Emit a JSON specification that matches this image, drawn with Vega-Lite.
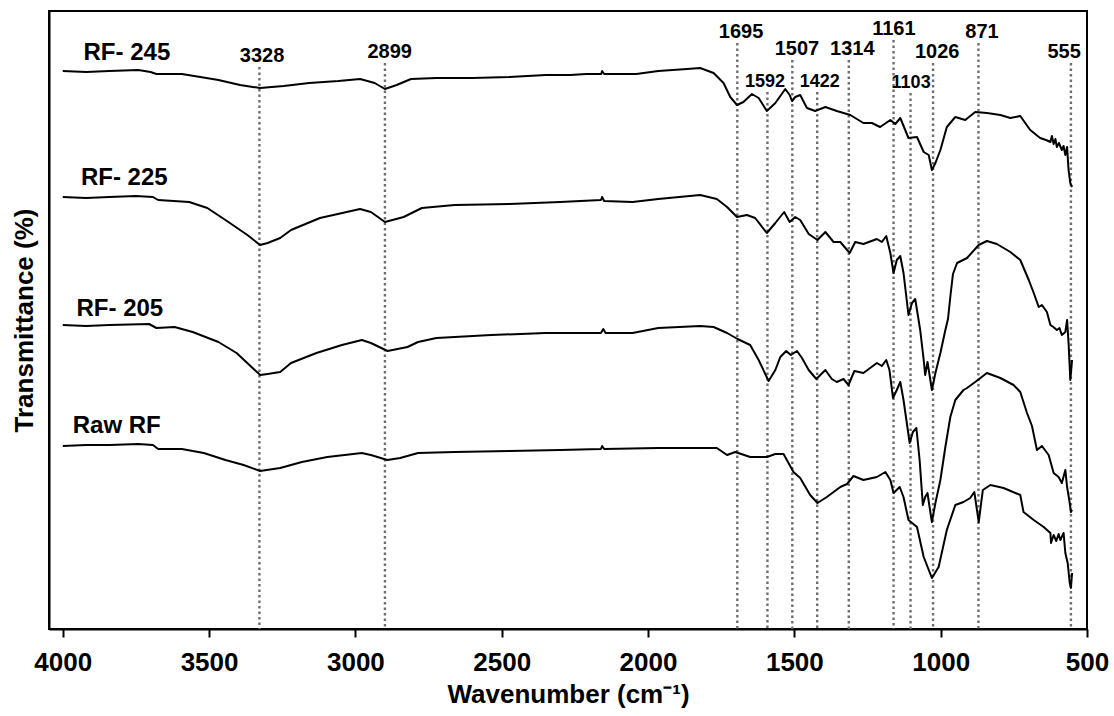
{
  "$schema": "https://vega.github.io/schema/vega-lite/v6.json",
  "width": 1038,
  "height": 618,
  "autosize": {"type": "none"},
  "padding": {"left": 49, "top": 11, "right": 27, "bottom": 87},
  "background": "white",
  "config": {"view": {"stroke": "black", "strokeWidth": 2}, "font": "Liberation Sans"},
  "datasets": {
    "peaks": [
      {"peak": "3328", "w": 3328, "lx": 3319, "t": 562, "tier": "major"},
      {"peak": "2899", "w": 2899, "lx": 2883, "t": 566, "tier": "major"},
      {"peak": "1695", "w": 1695, "lx": 1682, "t": 586, "tier": "major"},
      {"peak": "1592", "w": 1592, "lx": 1600, "t": 537, "tier": "minor"},
      {"peak": "1507", "w": 1507, "lx": 1491, "t": 569, "tier": "major"},
      {"peak": "1422", "w": 1422, "lx": 1413, "t": 537, "tier": "minor"},
      {"peak": "1314", "w": 1314, "lx": 1302, "t": 569, "tier": "major"},
      {"peak": "1161", "w": 1161, "lx": 1160, "t": 589, "tier": "major"},
      {"peak": "1103", "w": 1103, "lx": 1101, "t": 536, "tier": "minor"},
      {"peak": "1026", "w": 1026, "lx": 1012, "t": 566, "tier": "major"},
      {"peak": "871", "w": 871, "lx": 859, "t": 586, "tier": "major"},
      {"peak": "555", "w": 555, "lx": 578, "t": 566, "tier": "major"}
    ],
    "names": [
      {"label": "RF- 245", "w": 3929, "t": 569},
      {"label": "RF- 225", "w": 3938, "t": 444},
      {"label": "RF- 205", "w": 3953, "t": 313},
      {"label": "Raw RF", "w": 3966, "t": 196}
    ],
    "spectra": [
      {"s": "RF-245", "w": 4000, "t": 558}, {"s": "RF-245", "w": 3920, "t": 557}, {"s": "RF-245", "w": 3841, "t": 558}, {"s": "RF-245", "w": 3742, "t": 559}, {"s": "RF-245", "w": 3700, "t": 557}, {"s": "RF-245", "w": 3680, "t": 555}, {"s": "RF-245", "w": 3593, "t": 555}, {"s": "RF-245", "w": 3530, "t": 552}, {"s": "RF-245", "w": 3468, "t": 549}, {"s": "RF-245", "w": 3394, "t": 544}, {"s": "RF-245", "w": 3326, "t": 541}, {"s": "RF-245", "w": 3245, "t": 543}, {"s": "RF-245", "w": 3158, "t": 546}, {"s": "RF-245", "w": 3058, "t": 548}, {"s": "RF-245", "w": 2984, "t": 550}, {"s": "RF-245", "w": 2934, "t": 546}, {"s": "RF-245", "w": 2899, "t": 540}, {"s": "RF-245", "w": 2859, "t": 544}, {"s": "RF-245", "w": 2810, "t": 550}, {"s": "RF-245", "w": 2723, "t": 551}, {"s": "RF-245", "w": 2599, "t": 551}, {"s": "RF-245", "w": 2474, "t": 552}, {"s": "RF-245", "w": 2350, "t": 554}, {"s": "RF-245", "w": 2266, "t": 554}, {"s": "RF-245", "w": 2211, "t": 555}, {"s": "RF-245", "w": 2160, "t": 555}, {"s": "RF-245", "w": 2157, "t": 558}, {"s": "RF-245", "w": 2150, "t": 555}, {"s": "RF-245", "w": 2040, "t": 555}, {"s": "RF-245", "w": 1965, "t": 558}, {"s": "RF-245", "w": 1867, "t": 560}, {"s": "RF-245", "w": 1822, "t": 561}, {"s": "RF-245", "w": 1776, "t": 556}, {"s": "RF-245", "w": 1742, "t": 546}, {"s": "RF-245", "w": 1719, "t": 532}, {"s": "RF-245", "w": 1696, "t": 524}, {"s": "RF-245", "w": 1674, "t": 527}, {"s": "RF-245", "w": 1645, "t": 535}, {"s": "RF-245", "w": 1622, "t": 531}, {"s": "RF-245", "w": 1594, "t": 518}, {"s": "RF-245", "w": 1565, "t": 526}, {"s": "RF-245", "w": 1531, "t": 540}, {"s": "RF-245", "w": 1516, "t": 534}, {"s": "RF-245", "w": 1508, "t": 528}, {"s": "RF-245", "w": 1497, "t": 532}, {"s": "RF-245", "w": 1480, "t": 534}, {"s": "RF-245", "w": 1457, "t": 521}, {"s": "RF-245", "w": 1429, "t": 518}, {"s": "RF-245", "w": 1394, "t": 522}, {"s": "RF-245", "w": 1355, "t": 518}, {"s": "RF-245", "w": 1309, "t": 514}, {"s": "RF-245", "w": 1264, "t": 506}, {"s": "RF-245", "w": 1235, "t": 506}, {"s": "RF-245", "w": 1207, "t": 502}, {"s": "RF-245", "w": 1172, "t": 509}, {"s": "RF-245", "w": 1155, "t": 505}, {"s": "RF-245", "w": 1138, "t": 511}, {"s": "RF-245", "w": 1110, "t": 491}, {"s": "RF-245", "w": 1081, "t": 492}, {"s": "RF-245", "w": 1058, "t": 477}, {"s": "RF-245", "w": 1041, "t": 474}, {"s": "RF-245", "w": 1030, "t": 459}, {"s": "RF-245", "w": 1018, "t": 466}, {"s": "RF-245", "w": 1001, "t": 479}, {"s": "RF-245", "w": 979, "t": 502}, {"s": "RF-245", "w": 950, "t": 512}, {"s": "RF-245", "w": 916, "t": 509}, {"s": "RF-245", "w": 882, "t": 517}, {"s": "RF-245", "w": 842, "t": 516}, {"s": "RF-245", "w": 796, "t": 514}, {"s": "RF-245", "w": 762, "t": 511}, {"s": "RF-245", "w": 728, "t": 513}, {"s": "RF-245", "w": 694, "t": 499}, {"s": "RF-245", "w": 660, "t": 491}, {"s": "RF-245", "w": 640, "t": 489}, {"s": "RF-245", "w": 625, "t": 487}, {"s": "RF-245", "w": 620, "t": 493}, {"s": "RF-245", "w": 614, "t": 485}, {"s": "RF-245", "w": 608, "t": 490}, {"s": "RF-245", "w": 603, "t": 482}, {"s": "RF-245", "w": 596, "t": 486}, {"s": "RF-245", "w": 586, "t": 479}, {"s": "RF-245", "w": 580, "t": 483}, {"s": "RF-245", "w": 574, "t": 474}, {"s": "RF-245", "w": 568, "t": 482}, {"s": "RF-245", "w": 563, "t": 459}, {"s": "RF-245", "w": 557, "t": 446}, {"s": "RF-245", "w": 551, "t": 442},

      {"s": "RF-225", "w": 4000, "t": 432}, {"s": "RF-225", "w": 3920, "t": 431}, {"s": "RF-225", "w": 3841, "t": 432}, {"s": "RF-225", "w": 3750, "t": 433}, {"s": "RF-225", "w": 3692, "t": 432}, {"s": "RF-225", "w": 3674, "t": 429}, {"s": "RF-225", "w": 3568, "t": 427}, {"s": "RF-225", "w": 3506, "t": 421}, {"s": "RF-225", "w": 3444, "t": 409}, {"s": "RF-225", "w": 3369, "t": 394}, {"s": "RF-225", "w": 3326, "t": 384}, {"s": "RF-225", "w": 3300, "t": 386}, {"s": "RF-225", "w": 3257, "t": 391}, {"s": "RF-225", "w": 3220, "t": 399}, {"s": "RF-225", "w": 3121, "t": 411}, {"s": "RF-225", "w": 2984, "t": 420}, {"s": "RF-225", "w": 2947, "t": 417}, {"s": "RF-225", "w": 2899, "t": 407}, {"s": "RF-225", "w": 2835, "t": 412}, {"s": "RF-225", "w": 2773, "t": 421}, {"s": "RF-225", "w": 2661, "t": 424}, {"s": "RF-225", "w": 2474, "t": 425}, {"s": "RF-225", "w": 2300, "t": 427}, {"s": "RF-225", "w": 2161, "t": 429}, {"s": "RF-225", "w": 2157, "t": 432}, {"s": "RF-225", "w": 2150, "t": 428}, {"s": "RF-225", "w": 2053, "t": 427}, {"s": "RF-225", "w": 1965, "t": 430}, {"s": "RF-225", "w": 1822, "t": 434}, {"s": "RF-225", "w": 1765, "t": 430}, {"s": "RF-225", "w": 1730, "t": 422}, {"s": "RF-225", "w": 1696, "t": 412}, {"s": "RF-225", "w": 1662, "t": 414}, {"s": "RF-225", "w": 1634, "t": 411}, {"s": "RF-225", "w": 1594, "t": 396}, {"s": "RF-225", "w": 1565, "t": 406}, {"s": "RF-225", "w": 1535, "t": 417}, {"s": "RF-225", "w": 1516, "t": 407}, {"s": "RF-225", "w": 1497, "t": 412}, {"s": "RF-225", "w": 1480, "t": 409}, {"s": "RF-225", "w": 1451, "t": 395}, {"s": "RF-225", "w": 1421, "t": 389}, {"s": "RF-225", "w": 1394, "t": 397}, {"s": "RF-225", "w": 1366, "t": 387}, {"s": "RF-225", "w": 1343, "t": 387}, {"s": "RF-225", "w": 1311, "t": 376}, {"s": "RF-225", "w": 1292, "t": 387}, {"s": "RF-225", "w": 1264, "t": 385}, {"s": "RF-225", "w": 1218, "t": 390}, {"s": "RF-225", "w": 1201, "t": 387}, {"s": "RF-225", "w": 1186, "t": 393}, {"s": "RF-225", "w": 1172, "t": 376}, {"s": "RF-225", "w": 1161, "t": 356}, {"s": "RF-225", "w": 1150, "t": 369}, {"s": "RF-225", "w": 1138, "t": 373}, {"s": "RF-225", "w": 1127, "t": 356}, {"s": "RF-225", "w": 1110, "t": 314}, {"s": "RF-225", "w": 1098, "t": 326}, {"s": "RF-225", "w": 1087, "t": 330}, {"s": "RF-225", "w": 1070, "t": 299}, {"s": "RF-225", "w": 1058, "t": 269}, {"s": "RF-225", "w": 1053, "t": 254}, {"s": "RF-225", "w": 1045, "t": 267}, {"s": "RF-225", "w": 1030, "t": 239}, {"s": "RF-225", "w": 1018, "t": 256}, {"s": "RF-225", "w": 1001, "t": 276}, {"s": "RF-225", "w": 984, "t": 299}, {"s": "RF-225", "w": 975, "t": 310}, {"s": "RF-225", "w": 966, "t": 335}, {"s": "RF-225", "w": 958, "t": 355}, {"s": "RF-225", "w": 944, "t": 366}, {"s": "RF-225", "w": 910, "t": 371}, {"s": "RF-225", "w": 870, "t": 384}, {"s": "RF-225", "w": 842, "t": 388}, {"s": "RF-225", "w": 808, "t": 385}, {"s": "RF-225", "w": 762, "t": 377}, {"s": "RF-225", "w": 728, "t": 369}, {"s": "RF-225", "w": 699, "t": 349}, {"s": "RF-225", "w": 682, "t": 336}, {"s": "RF-225", "w": 665, "t": 322}, {"s": "RF-225", "w": 654, "t": 324}, {"s": "RF-225", "w": 637, "t": 317}, {"s": "RF-225", "w": 625, "t": 304}, {"s": "RF-225", "w": 615, "t": 302}, {"s": "RF-225", "w": 603, "t": 299}, {"s": "RF-225", "w": 594, "t": 301}, {"s": "RF-225", "w": 586, "t": 294}, {"s": "RF-225", "w": 574, "t": 297}, {"s": "RF-225", "w": 568, "t": 309}, {"s": "RF-225", "w": 563, "t": 286}, {"s": "RF-225", "w": 557, "t": 249}, {"s": "RF-225", "w": 551, "t": 269},

      {"s": "RF-205", "w": 4000, "t": 304}, {"s": "RF-205", "w": 3920, "t": 303}, {"s": "RF-205", "w": 3841, "t": 304}, {"s": "RF-205", "w": 3705, "t": 305}, {"s": "RF-205", "w": 3680, "t": 301}, {"s": "RF-205", "w": 3618, "t": 302}, {"s": "RF-205", "w": 3556, "t": 297}, {"s": "RF-205", "w": 3468, "t": 287}, {"s": "RF-205", "w": 3406, "t": 276}, {"s": "RF-205", "w": 3344, "t": 259}, {"s": "RF-205", "w": 3325, "t": 254}, {"s": "RF-205", "w": 3300, "t": 255}, {"s": "RF-205", "w": 3257, "t": 257}, {"s": "RF-205", "w": 3220, "t": 266}, {"s": "RF-205", "w": 3133, "t": 276}, {"s": "RF-205", "w": 3046, "t": 284}, {"s": "RF-205", "w": 2978, "t": 289}, {"s": "RF-205", "w": 2947, "t": 286}, {"s": "RF-205", "w": 2890, "t": 278}, {"s": "RF-205", "w": 2822, "t": 282}, {"s": "RF-205", "w": 2786, "t": 287}, {"s": "RF-205", "w": 2723, "t": 291}, {"s": "RF-205", "w": 2536, "t": 294}, {"s": "RF-205", "w": 2350, "t": 296}, {"s": "RF-205", "w": 2161, "t": 296}, {"s": "RF-205", "w": 2153, "t": 300}, {"s": "RF-205", "w": 2145, "t": 296}, {"s": "RF-205", "w": 2053, "t": 296}, {"s": "RF-205", "w": 1965, "t": 301}, {"s": "RF-205", "w": 1822, "t": 303}, {"s": "RF-205", "w": 1776, "t": 302}, {"s": "RF-205", "w": 1730, "t": 296}, {"s": "RF-205", "w": 1694, "t": 290}, {"s": "RF-205", "w": 1651, "t": 284}, {"s": "RF-205", "w": 1622, "t": 269}, {"s": "RF-205", "w": 1588, "t": 248}, {"s": "RF-205", "w": 1565, "t": 259}, {"s": "RF-205", "w": 1548, "t": 272}, {"s": "RF-205", "w": 1528, "t": 278}, {"s": "RF-205", "w": 1512, "t": 274}, {"s": "RF-205", "w": 1491, "t": 278}, {"s": "RF-205", "w": 1474, "t": 271}, {"s": "RF-205", "w": 1451, "t": 259}, {"s": "RF-205", "w": 1425, "t": 250}, {"s": "RF-205", "w": 1394, "t": 259}, {"s": "RF-205", "w": 1372, "t": 250}, {"s": "RF-205", "w": 1355, "t": 247}, {"s": "RF-205", "w": 1332, "t": 250}, {"s": "RF-205", "w": 1315, "t": 244}, {"s": "RF-205", "w": 1295, "t": 258}, {"s": "RF-205", "w": 1264, "t": 256}, {"s": "RF-205", "w": 1218, "t": 266}, {"s": "RF-205", "w": 1201, "t": 263}, {"s": "RF-205", "w": 1186, "t": 269}, {"s": "RF-205", "w": 1175, "t": 259}, {"s": "RF-205", "w": 1163, "t": 231}, {"s": "RF-205", "w": 1150, "t": 239}, {"s": "RF-205", "w": 1138, "t": 247}, {"s": "RF-205", "w": 1127, "t": 229}, {"s": "RF-205", "w": 1106, "t": 186}, {"s": "RF-205", "w": 1095, "t": 197}, {"s": "RF-205", "w": 1083, "t": 201}, {"s": "RF-205", "w": 1072, "t": 169}, {"s": "RF-205", "w": 1061, "t": 124}, {"s": "RF-205", "w": 1053, "t": 132}, {"s": "RF-205", "w": 1045, "t": 136}, {"s": "RF-205", "w": 1038, "t": 122}, {"s": "RF-205", "w": 1030, "t": 107}, {"s": "RF-205", "w": 1018, "t": 126}, {"s": "RF-205", "w": 1001, "t": 149}, {"s": "RF-205", "w": 984, "t": 182}, {"s": "RF-205", "w": 967, "t": 212}, {"s": "RF-205", "w": 950, "t": 229}, {"s": "RF-205", "w": 922, "t": 239}, {"s": "RF-205", "w": 910, "t": 241}, {"s": "RF-205", "w": 882, "t": 247}, {"s": "RF-205", "w": 842, "t": 256}, {"s": "RF-205", "w": 796, "t": 251}, {"s": "RF-205", "w": 751, "t": 244}, {"s": "RF-205", "w": 728, "t": 237}, {"s": "RF-205", "w": 705, "t": 216}, {"s": "RF-205", "w": 688, "t": 203}, {"s": "RF-205", "w": 671, "t": 179}, {"s": "RF-205", "w": 654, "t": 183}, {"s": "RF-205", "w": 631, "t": 174}, {"s": "RF-205", "w": 614, "t": 156}, {"s": "RF-205", "w": 597, "t": 152}, {"s": "RF-205", "w": 586, "t": 146}, {"s": "RF-205", "w": 574, "t": 159}, {"s": "RF-205", "w": 568, "t": 142}, {"s": "RF-205", "w": 559, "t": 126}, {"s": "RF-205", "w": 555, "t": 117}, {"s": "RF-205", "w": 551, "t": 119},

      {"s": "Raw", "w": 4000, "t": 183}, {"s": "Raw", "w": 3920, "t": 184}, {"s": "Raw", "w": 3841, "t": 184}, {"s": "Raw", "w": 3742, "t": 185}, {"s": "Raw", "w": 3692, "t": 184}, {"s": "Raw", "w": 3674, "t": 180}, {"s": "Raw", "w": 3593, "t": 180}, {"s": "Raw", "w": 3518, "t": 176}, {"s": "Raw", "w": 3444, "t": 169}, {"s": "Raw", "w": 3382, "t": 164}, {"s": "Raw", "w": 3326, "t": 158}, {"s": "Raw", "w": 3257, "t": 161}, {"s": "Raw", "w": 3183, "t": 167}, {"s": "Raw", "w": 3096, "t": 172}, {"s": "Raw", "w": 2978, "t": 176}, {"s": "Raw", "w": 2947, "t": 174}, {"s": "Raw", "w": 2891, "t": 169}, {"s": "Raw", "w": 2847, "t": 171}, {"s": "Raw", "w": 2786, "t": 176}, {"s": "Raw", "w": 2661, "t": 177}, {"s": "Raw", "w": 2474, "t": 178}, {"s": "Raw", "w": 2300, "t": 179}, {"s": "Raw", "w": 2161, "t": 180}, {"s": "Raw", "w": 2157, "t": 183}, {"s": "Raw", "w": 2150, "t": 180}, {"s": "Raw", "w": 1965, "t": 181}, {"s": "Raw", "w": 1822, "t": 181}, {"s": "Raw", "w": 1765, "t": 181}, {"s": "Raw", "w": 1730, "t": 174}, {"s": "Raw", "w": 1702, "t": 177}, {"s": "Raw", "w": 1651, "t": 172}, {"s": "Raw", "w": 1594, "t": 172}, {"s": "Raw", "w": 1565, "t": 175}, {"s": "Raw", "w": 1537, "t": 175}, {"s": "Raw", "w": 1503, "t": 157}, {"s": "Raw", "w": 1480, "t": 151}, {"s": "Raw", "w": 1446, "t": 134}, {"s": "Raw", "w": 1421, "t": 126}, {"s": "Raw", "w": 1389, "t": 132}, {"s": "Raw", "w": 1343, "t": 142}, {"s": "Raw", "w": 1320, "t": 145}, {"s": "Raw", "w": 1298, "t": 153}, {"s": "Raw", "w": 1264, "t": 149}, {"s": "Raw", "w": 1218, "t": 152}, {"s": "Raw", "w": 1189, "t": 157}, {"s": "Raw", "w": 1172, "t": 149}, {"s": "Raw", "w": 1161, "t": 136}, {"s": "Raw", "w": 1140, "t": 142}, {"s": "Raw", "w": 1127, "t": 132}, {"s": "Raw", "w": 1110, "t": 109}, {"s": "Raw", "w": 1081, "t": 102}, {"s": "Raw", "w": 1058, "t": 72}, {"s": "Raw", "w": 1030, "t": 51}, {"s": "Raw", "w": 1007, "t": 62}, {"s": "Raw", "w": 979, "t": 99}, {"s": "Raw", "w": 950, "t": 124}, {"s": "Raw", "w": 922, "t": 127}, {"s": "Raw", "w": 899, "t": 131}, {"s": "Raw", "w": 885, "t": 137}, {"s": "Raw", "w": 870, "t": 107}, {"s": "Raw", "w": 856, "t": 139}, {"s": "Raw", "w": 830, "t": 144}, {"s": "Raw", "w": 785, "t": 141}, {"s": "Raw", "w": 728, "t": 134}, {"s": "Raw", "w": 717, "t": 117}, {"s": "Raw", "w": 682, "t": 109}, {"s": "Raw", "w": 648, "t": 102}, {"s": "Raw", "w": 625, "t": 96}, {"s": "Raw", "w": 623, "t": 86}, {"s": "Raw", "w": 614, "t": 94}, {"s": "Raw", "w": 605, "t": 88}, {"s": "Raw", "w": 597, "t": 95}, {"s": "Raw", "w": 591, "t": 89}, {"s": "Raw", "w": 580, "t": 96}, {"s": "Raw", "w": 574, "t": 76}, {"s": "Raw", "w": 566, "t": 66}, {"s": "Raw", "w": 559, "t": 46}, {"s": "Raw", "w": 555, "t": 41}, {"s": "Raw", "w": 551, "t": 56}
    ]
  },
  "encoding": {
    "x": {
      "field": "w", "type": "quantitative",
      "scale": {"domain": [500, 4047], "reverse": true, "nice": false, "zero": false},
      "axis": {
        "title": "Wavenumber (cm⁻¹)", "values": [4000, 3500, 3000, 2500, 2000, 1500, 1000, 500], "format": "d",
        "grid": false, "domainColor": "black", "domainWidth": 2, "tickColor": "black", "tickWidth": 2, "tickSize": 8,
        "labelFont": "Liberation Sans", "labelFontWeight": "bold", "labelFontSize": 26, "labelColor": "black", "labelPadding": 12,
        "labelFlush": false, "labelOverlap": false,
        "titleFont": "Liberation Sans", "titleFontSize": 26, "titleFontWeight": "bold", "titleColor": "black", "titlePadding": 6
      }
    },
    "y": {
      "field": "t", "type": "quantitative",
      "scale": {"domain": [0, 618], "nice": false, "zero": false},
      "axis": {
        "title": "Transmittance (%)", "labels": false, "ticks": false, "grid": false,
        "domainColor": "black", "domainWidth": 2,
        "titleFont": "Liberation Sans", "titleFontSize": 26, "titleFontWeight": "bold", "titleColor": "black", "titlePadding": 12
      }
    }
  },
  "layer": [
    {
      "data": {"name": "peaks"},
      "mark": {"type": "rule", "color": "#6e6e6e", "strokeWidth": 2.4, "strokeDash": [2.5, 3]},
      "encoding": {"y2": {"datum": 0}}
    },
    {
      "data": {"name": "peaks"},
      "transform": [{"filter": "datum.tier == 'major'"}],
      "mark": {"type": "text", "font": "Liberation Sans", "fontWeight": "bold", "fontSize": 20, "color": "black", "align": "center", "baseline": "alphabetic", "dy": -5},
      "encoding": {"x": {"field": "lx", "type": "quantitative", "title": "Wavenumber (cm⁻¹)"}, "text": {"field": "peak"}}
    },
    {
      "data": {"name": "peaks"},
      "transform": [{"filter": "datum.tier == 'minor'"}],
      "mark": {"type": "text", "font": "Liberation Sans", "fontWeight": "bold", "fontSize": 18, "color": "black", "align": "center", "baseline": "alphabetic", "dy": -5},
      "encoding": {"x": {"field": "lx", "type": "quantitative", "title": "Wavenumber (cm⁻¹)"}, "text": {"field": "peak"}}
    },
    {
      "data": {"name": "spectra"},
      "mark": {"type": "line", "color": "black", "strokeWidth": 2, "strokeJoin": "round"},
      "encoding": {"detail": {"field": "s"}}
    },
    {
      "data": {"name": "names"},
      "mark": {"type": "text", "font": "Liberation Sans", "fontWeight": "bold", "fontSize": 24, "color": "black", "align": "left", "baseline": "alphabetic"},
      "encoding": {"text": {"field": "label"}}
    }
  ]
}
